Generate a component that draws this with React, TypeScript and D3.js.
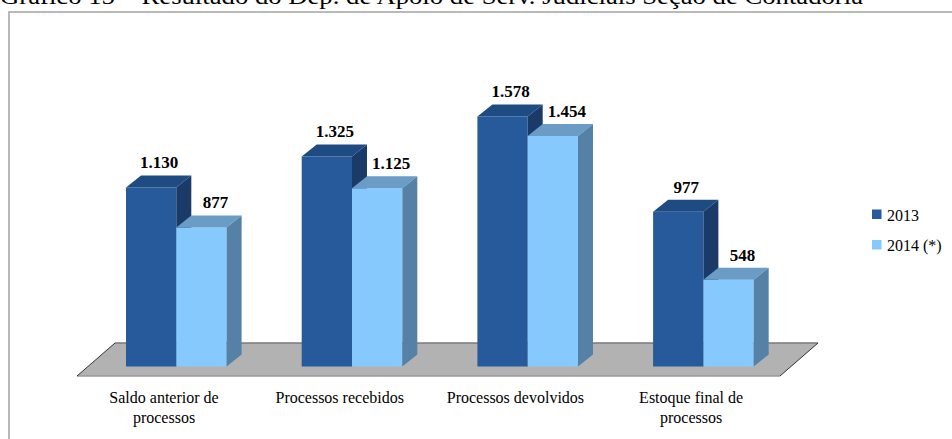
import React from 'react';
import * as d3 from 'd3';

// Gráfico 15 – Dep. de Apoio de Serv. Judiciais, Seção de Contadoria
const categories = [
    ['Saldo anterior de', 'processos'],
    ['Processos recebidos'],
    ['Processos devolvidos'],
    ['Estoque final de', 'processos'],
];
const series = ['2013', '2014 (*)'];
const values2013 = [1130, 1325, 1578, 977];
const values2014 = [877, 1125, 1454, 548];
const valueLabels2013 = ['1.130', '1.325', '1.578', '977'];
const valueLabels2014 = ['877', '1.125', '1.454', '548'];

const W = 952;
const H = 439;
const serif = '"Liberation Serif", "Times New Roman", serif';

// face colours: front / top / side
const palette = [
    { front: '#265a9a', top: '#1f4b83', side: '#1a3b67' },
    { front: '#85c9fd', top: '#6a9cc5', side: '#5581a7' },
];

const depthX = 15;
const depthY = 12;

export default function App() {
    const keys = categories.map((_, i) => String(i));
    const x = d3.scaleBand<string>().domain(keys).range([126, 828.8]);
    const xs = d3.scaleBand<string>().domain(series).range([0, 100.6]);
    const y = d3.scaleLinear().domain([0, 2000]).range([366.5, 49.5]);
    const base = y(0);

    const data = [values2013, values2014];
    const labels = [valueLabels2013, valueLabels2014];

    // floor parallelogram
    const floorTop = 343;
    const floorBottom = 376;
    const floorLeft = 77;
    const floorRight = 780;
    const skew = 38;

    const bars: React.ReactNode[] = [];
    keys.forEach((k, ci) => {
        series.forEach((s, si) => {
            const v = data[si][ci];
            const x0 = (x(k) as number) + (xs(s) as number);
            const w = xs.bandwidth();
            const yt = y(v);
            const c = palette[si];
            const front = `M${x0},${yt}H${x0 + w}V${base}H${x0}Z`;
            const top = `M${x0},${yt}L${x0 + depthX},${yt - depthY}H${x0 + w + depthX}L${x0 + w},${yt}Z`;
            const side = `M${x0 + w},${yt}L${x0 + w + depthX},${yt - depthY}V${base - depthY}L${x0 + w},${base}Z`;
            bars.push(
                <g key={`${k}-${s}`}>
                    <path d={front} fill={c.front} />
                    <path d={top} fill={c.top} />
                    <path d={side} fill={c.side} />
                    <text
                        x={x0 + w / 2 + (si === 0 ? 8 : 14)}
                        y={yt - 19}
                        textAnchor="middle"
                        fontFamily={serif}
                        fontWeight="bold"
                        fontSize={17}
                        fill="#000"
                    >
                        {labels[si][ci]}
                    </text>
                </g>
            );
        });
    });

    return (
        <svg width={W} height={H} style={{ position: 'absolute', left: 0, top: 0, background: '#fff' }}>
            <text x={0} y={4} fontFamily={serif} fontSize={24} textLength={863} lengthAdjust="spacingAndGlyphs" fill="#000">
                Gráfico 15 – Resultado do Dep. de Apoio de Serv. Judiciais Seção de Contadoria
            </text>
            <rect x={9} y={12} width={980} height={460} fill="#fff" stroke="#a3a3a3" strokeWidth={1.5} />

            {/* floor */}
            <path
                d={`M${floorLeft + skew},${floorTop}L${floorRight + skew},${floorTop}L${floorRight},${floorBottom}L${floorLeft},${floorBottom}Z`}
                fill="#b2b2b2"
                stroke="none"
            />
            <path d={`M${floorLeft + skew},${floorTop}H${floorRight + skew}`} stroke="#7a7a7a" strokeWidth={1.5} />
            <path d={`M${floorLeft},${floorBottom}H${floorRight}`} stroke="#9a9a9a" strokeWidth={1.5} />
            <path d={`M${floorLeft},${floorBottom}L${floorLeft + skew},${floorTop}`} stroke="#333" strokeWidth={1} />
            <path d={`M${floorRight},${floorBottom}L${floorRight + skew},${floorTop}`} stroke="#333" strokeWidth={1} />

            {bars}

            {/* category labels */}
            {keys.map((k, ci) => (
                <text
                    key={k}
                    x={(x(k) as number) + 38}
                    y={402.5}
                    textAnchor="middle"
                    fontFamily={serif}
                    fontSize={16}
                    fill="#000"
                >
                    {categories[ci].map((line, li) => (
                        <tspan key={li} x={(x(k) as number) + 38} dy={li === 0 ? 0 : 20}>
                            {line}
                        </tspan>
                    ))}
                </text>
            ))}

            {/* legend */}
            {series.map((s, si) => (
                <g key={s} transform={`translate(872, ${209.5 + si * 30.5})`}>
                    <rect width={9.5} height={9.5} fill={palette[si].front} />
                    <text x={15} y={11.3} fontFamily={serif} fontSize={16} fill="#000">
                        {s}
                    </text>
                </g>
            ))}
        </svg>
    );
}
